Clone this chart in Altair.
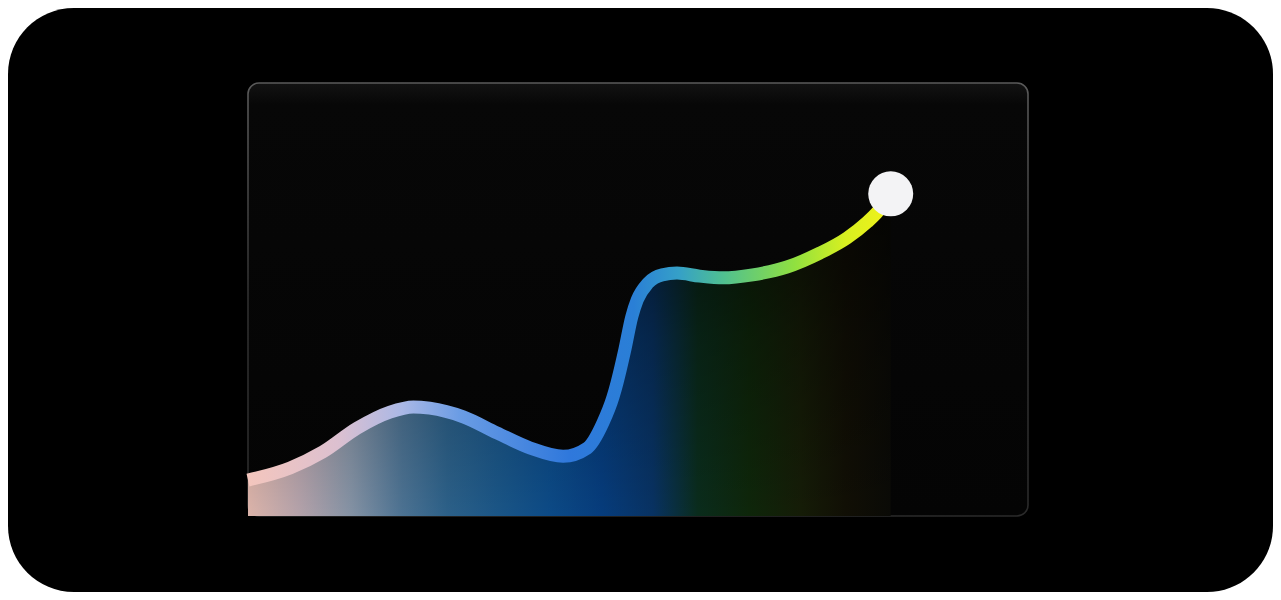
import altair as alt
import pandas as pd

# Curve (abstract units: panel spans 0..100 on both axes)
xs = [0, 5.4, 9.6, 14.0, 18.2, 21.2, 23.3, 27.6, 31.9, 36.2, 40.4, 43.5, 45.5,
      46.8, 47.3, 48.3, 49.2, 49.9, 51.3, 53.1, 55.0, 57.9, 60.9, 64.7, 69.1,
      73.3, 76.8, 79.4, 80.6, 82.4]
ys = [8.3, 11.1, 14.8, 20.3, 24.0, 25.2, 24.9, 22.9, 19.2, 15.7, 13.8, 15.7, 21.5,
      27.5, 30.7, 38.3, 46.0, 49.9, 53.8, 55.7, 56.1, 55.4, 55.0, 55.7, 57.5,
      60.7, 64.2, 67.9, 70.0, 74.4]

panel_x = [0, 100]
panel_y = [0, 100]

line_stops = [(0.0, "#f4c6bd"), (0.14, "#dcc0d0"), (0.24, "#aab8e6"),
              (0.33, "#6a9ce4"), (0.50, "#2f78dc"), (0.60, "#2a7fd6"),
              (0.67, "#35a0c8"), (0.74, "#50c090"), (0.85, "#90e040"),
              (0.93, "#d8f020"), (1.0, "#f2f21a")]
area_stops = [(0.0, "#dcb4aa"), (0.08, "#b4a2aa"), (0.16, "#8492a4"),
              (0.24, "#4c7292"), (0.31, "#2c6088"), (0.39, "#1a5586"),
              (0.47, "#0c4a86"), (0.55, "#063c7c"), (0.63, "#083262"),
              (0.70, "#0a2c1c"), (0.78, "#0e260a"), (0.86, "#151c07"),
              (0.93, "#110f05"), (1.0, "#0a0a06")]
shade_stops = [(0.0, "rgba(0,0,0,0.6)"), (0.45, "rgba(0,0,0,0.25)"),
               (1.0, "rgba(0,0,0,0)")]
panel_fill_stops = [(0.0, "#121212"), (0.05, "#070707"), (1.0, "#040404")]
panel_edge_stops = [(0.0, "#5a5a5a"), (0.5, "#2e2e2e"), (1.0, "#2a2a2a")]

curve = pd.DataFrame({"x": xs, "y": ys})
end = pd.DataFrame({"x": [xs[-1]], "y": [ys[-1]]})
panel = pd.DataFrame({"x0": [panel_x[0]], "x1": [panel_x[1]],
                      "y0": [panel_y[0]], "y1": [panel_y[1]]})

sx = alt.Scale(domain=panel_x, range=[240, 1020], nice=False, zero=False)
sy = alt.Scale(domain=panel_y, range=[508, 75], nice=False, zero=False)


def grad(stops, x2=1, y2=0):
    return alt.LinearGradient(
        gradient="linear",
        stops=[alt.GradientStop(offset=o, color=c) for o, c in stops],
        x1=0, x2=x2, y1=0, y2=y2)


enc = dict(x=alt.X("x:Q", scale=sx, axis=None), y=alt.Y("y:Q", scale=sy, axis=None))

panel_rect = alt.Chart(panel).mark_rect(
    cornerRadius=11, fill=grad(panel_fill_stops, x2=0, y2=1), strokeWidth=1.6,
    stroke=grad(panel_edge_stops, x2=0, y2=1),
).encode(
    x=alt.X("x0:Q", scale=sx, axis=None), x2="x1:Q",
    y=alt.Y("y0:Q", scale=sy, axis=None), y2="y1:Q",
)

area = alt.Chart(curve).mark_area(
    interpolate="monotone", color=grad(area_stops)
).encode(**enc)

shade = alt.Chart(curve).mark_area(
    interpolate="monotone", color=grad(shade_stops, x2=0, y2=1)
).encode(**enc)

line = alt.Chart(curve).mark_line(
    interpolate="monotone", color=grad(line_stops), strokeWidth=13,
    strokeCap="butt"
).encode(**enc)

dot = alt.Chart(end).mark_circle(size=2025, color="#f3f3f5", opacity=1).encode(**enc)

chart = alt.layer(panel_rect, area, shade, line, dot).properties(
    width=1265, height=584, padding=0, background="#ffffff"
).configure_view(fill="#000000", stroke="#000000", strokeWidth=0, cornerRadius=66)

chart.save("out.html", embed_options={"renderer": "svg", "actions": False})
